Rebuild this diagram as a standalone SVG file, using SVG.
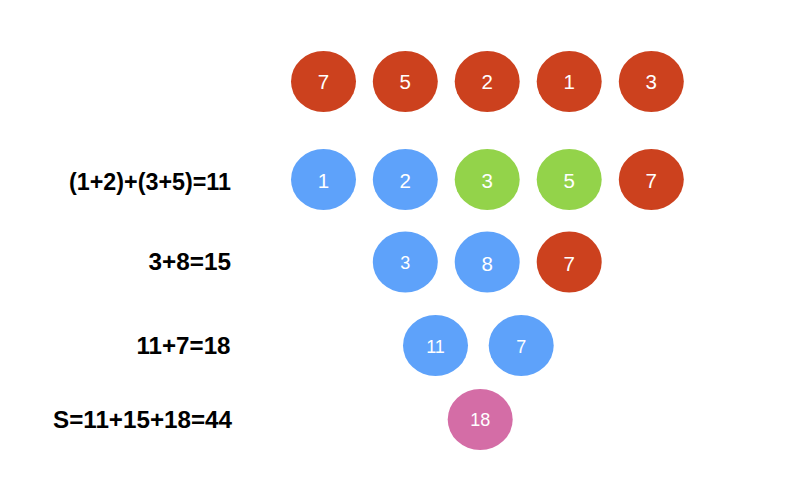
<svg xmlns="http://www.w3.org/2000/svg" width="794" height="498" viewBox="0 0 794 498">
<style>
.red{fill:#cc411e}
.blue{fill:#5ea2fa}
.green{fill:#93d34a}
.pink{fill:#d46da6}
.n{fill:#ffffff;font-family:"Liberation Sans",Arial,Helvetica,sans-serif;text-anchor:middle}
.big{font-size:20.5px}
.sm{font-size:18px}
.lbl{fill:#000000;font-family:"Liberation Sans",Arial,Helvetica,sans-serif;font-weight:bold;font-size:23px;text-anchor:end}
</style>
<rect width="794" height="498" fill="#ffffff"/>
<g id="row1">
<g id="r1n1"><ellipse class="red" cx="323.5" cy="81.5" rx="32.5" ry="30.5"/><text class="n big" x="323.5" y="89.3">7</text></g>
<g id="r1n2"><ellipse class="red" cx="405.3" cy="81.5" rx="32.5" ry="30.5"/><text class="n big" x="405.3" y="89.3">5</text></g>
<g id="r1n3"><ellipse class="red" cx="487.2" cy="81.5" rx="32.5" ry="30.5"/><text class="n big" x="487.2" y="89.3">2</text></g>
<g id="r1n4"><ellipse class="red" cx="569.2" cy="81.5" rx="32.5" ry="30.5"/><text class="n big" x="569.2" y="89.3">1</text></g>
<g id="r1n5"><ellipse class="red" cx="651.3" cy="81.5" rx="32.5" ry="30.5"/><text class="n big" x="651.3" y="89.3">3</text></g>
</g>
<g id="row2">
<g id="r2n1"><ellipse class="blue" cx="323.5" cy="179.5" rx="32.5" ry="30.5"/><text class="n big" x="323.5" y="187.5">1</text></g>
<g id="r2n2"><ellipse class="blue" cx="405.3" cy="179.5" rx="32.5" ry="30.5"/><text class="n big" x="405.3" y="187.5">2</text></g>
<g id="r2n3"><ellipse class="green" cx="487.2" cy="179.5" rx="32.5" ry="30.5"/><text class="n big" x="487.2" y="187.5">3</text></g>
<g id="r2n4"><ellipse class="green" cx="569.2" cy="179.5" rx="32.5" ry="30.5"/><text class="n big" x="569.2" y="187.5">5</text></g>
<g id="r2n5"><ellipse class="red" cx="651.3" cy="179.5" rx="32.5" ry="30.5"/><text class="n big" x="651.3" y="187.5">7</text></g>
</g>
<g id="row3">
<g id="r3n1"><ellipse class="blue" cx="405.3" cy="262" rx="32.5" ry="30.5"/><text class="n sm" x="405.3" y="269">3</text></g>
<g id="r3n2"><ellipse class="blue" cx="487.2" cy="262" rx="32.5" ry="30.5"/><text class="n big" x="487.2" y="270.5">8</text></g>
<g id="r3n3"><ellipse class="red" cx="569.2" cy="262" rx="32.5" ry="30.5"/><text class="n big" x="569.2" y="270.5">7</text></g>
</g>
<g id="row4">
<g id="r4n1"><ellipse class="blue" cx="435.5" cy="345.5" rx="32.5" ry="30.5"/><text class="n sm" x="435.5" y="353.3">11</text></g>
<g id="r4n2"><ellipse class="blue" cx="521.2" cy="345.5" rx="32.5" ry="30.5"/><text class="n sm" x="521.2" y="352.5">7</text></g>
</g>
<g id="row5">
<g id="r5n1"><ellipse class="pink" cx="480.2" cy="419.5" rx="32.5" ry="30.5"/><text class="n sm" x="480.2" y="426">18</text></g>
</g>
<g id="labels">
<text class="lbl" x="231" y="190" textLength="162" lengthAdjust="spacingAndGlyphs">(1+2)+(3+5)=11</text>
<text class="lbl" x="231" y="270" textLength="82.5" lengthAdjust="spacingAndGlyphs">3+8=15</text>
<text class="lbl" x="230.5" y="354" textLength="94" lengthAdjust="spacingAndGlyphs">11+7=18</text>
<text class="lbl" x="232" y="428" textLength="179" lengthAdjust="spacingAndGlyphs">S=11+15+18=44</text>
</g>
<g id="connectors"></g>
</svg>
